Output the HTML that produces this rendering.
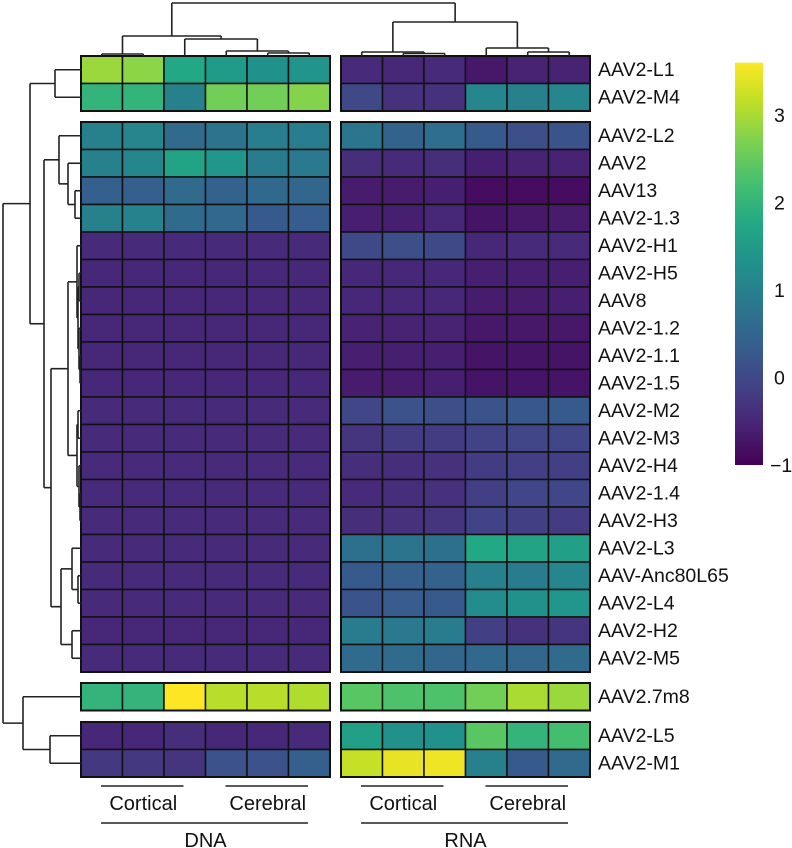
<!DOCTYPE html>
<html><head><meta charset="utf-8">
<style>
body{margin:0;background:#fff;}
svg{display:block;font-family:"Liberation Sans",Arial,sans-serif;}
</style></head>
<body>
<svg id="chart" width="792" height="848" viewBox="0 0 792 848" xmlns="http://www.w3.org/2000/svg"></svg>
<script>
const rowNames = ["AAV2-L1","AAV2-M4","AAV2-L2","AAV2","AAV13","AAV2-1.3","AAV2-H1","AAV2-H5","AAV8","AAV2-1.2","AAV2-1.1","AAV2-1.5","AAV2-M2","AAV2-M3","AAV2-H4","AAV2-1.4","AAV2-H3","AAV2-L3","AAV-Anc80L65","AAV2-L4","AAV2-H2","AAV2-M5","AAV2.7m8","AAV2-L5","AAV2-M1"];
const rowBlock = [0,0,1,1,1,1,1,1,1,1,1,1,1,1,1,1,1,1,1,1,1,1,2,3,3];
const dnaValues = [
[2.9,2.8,1.75,1.5,1.3,1.35],
[2.0,2.0,1.0,2.6,2.6,2.75],
[1.0,1.1,0.6,0.75,0.95,0.95],
[1.0,1.1,1.65,1.4,0.9,0.85],
[0.4,0.4,0.6,0.45,0.55,0.5],
[1.0,1.05,0.6,0.55,0.3,0.35],
[-0.45,-0.45,-0.45,-0.45,-0.45,-0.45],
[-0.5,-0.5,-0.5,-0.5,-0.5,-0.5],
[-0.5,-0.5,-0.5,-0.5,-0.5,-0.5],
[-0.5,-0.5,-0.5,-0.5,-0.5,-0.5],
[-0.5,-0.5,-0.5,-0.5,-0.5,-0.5],
[-0.5,-0.5,-0.5,-0.5,-0.5,-0.5],
[-0.45,-0.45,-0.45,-0.45,-0.45,-0.45],
[-0.45,-0.45,-0.45,-0.45,-0.45,-0.45],
[-0.45,-0.45,-0.45,-0.45,-0.45,-0.45],
[-0.45,-0.45,-0.45,-0.45,-0.45,-0.45],
[-0.45,-0.45,-0.45,-0.45,-0.45,-0.45],
[-0.45,-0.45,-0.45,-0.45,-0.45,-0.45],
[-0.45,-0.45,-0.45,-0.45,-0.45,-0.45],
[-0.45,-0.45,-0.45,-0.45,-0.45,-0.45],
[-0.5,-0.5,-0.5,-0.5,-0.5,-0.5],
[-0.45,-0.45,-0.45,-0.45,-0.45,-0.45],
[2.0,2.0,3.6,3.1,3.1,3.05],
[-0.5,-0.5,-0.4,-0.5,-0.5,-0.45],
[-0.25,-0.25,-0.3,0.15,0.15,0.4]
];
const rnaValues = [
[-0.45,-0.5,-0.45,-0.7,-0.55,-0.55],
[0.0,-0.35,-0.35,1.1,1.0,1.1],
[0.8,0.45,0.65,0.3,0.1,0.2],
[-0.4,-0.45,-0.4,-0.6,-0.55,-0.55],
[-0.65,-0.65,-0.6,-0.85,-0.85,-0.85],
[-0.6,-0.6,-0.5,-0.75,-0.7,-0.65],
[0.0,0.1,0.0,-0.5,-0.45,-0.45],
[-0.5,-0.5,-0.5,-0.6,-0.6,-0.6],
[-0.5,-0.5,-0.5,-0.65,-0.65,-0.6],
[-0.55,-0.55,-0.55,-0.7,-0.7,-0.7],
[-0.6,-0.6,-0.6,-0.75,-0.75,-0.75],
[-0.65,-0.65,-0.6,-0.75,-0.75,-0.75],
[-0.05,0.15,0.1,0.2,0.25,0.3],
[-0.3,-0.2,-0.2,-0.1,-0.05,-0.05],
[-0.4,-0.4,-0.35,-0.2,-0.15,-0.15],
[-0.45,-0.4,-0.35,-0.15,-0.05,-0.05],
[-0.4,-0.35,-0.3,-0.1,-0.15,-0.2],
[0.7,0.75,0.7,1.75,1.65,1.6],
[0.3,0.4,0.45,1.0,0.9,1.1],
[0.2,0.35,0.3,1.2,1.3,1.4],
[0.9,0.85,0.9,-0.15,-0.35,-0.3],
[0.6,0.6,0.5,0.55,0.5,0.6],
[2.4,2.3,2.3,2.6,3.0,2.9],
[1.6,1.3,1.3,2.4,2.0,2.2],
[3.2,3.45,3.5,1.0,0.3,0.6]
];
const colorTicks = [-1,0,1,2,3];
const vMin = -1, vMax = 3.6;

const NS="http://www.w3.org/2000/svg";
const svg=document.getElementById('chart');
function mk(tag,attrs,parent){const e=document.createElementNS(NS,tag);for(const k in attrs)e.setAttribute(k,attrs[k]);(parent||svg).appendChild(e);return e;}
const vir=["#440154","#482475","#414487","#355f8d","#2a788e","#21918c","#22a884","#44bf70","#7ad151","#bddf26","#fde725"];
function hex(h){return [1,3,5].map(i=>parseInt(h.substr(i,2),16));}
function color(v){let t=(v-vMin)/(vMax-vMin);t=Math.max(0,Math.min(1,t));const p=t*10,i=Math.min(9,Math.floor(p)),f=p-i;const a=hex(vir[i]),b=hex(vir[i+1]);return 'rgb('+a.map((x,k)=>Math.round(x+(b[k]-x)*f)).join(',')+')';}

const cellW=41.5, cellH=27.5;
const blockTop=[56,122,683,722];
const leftX=81, rightX=341;
const blockStartRow=[0,2,22,23];
function rowY(r){const b=rowBlock[r];return blockTop[b]+(r-blockStartRow[b])*cellH;}
function colX(side,c){return (side===0?leftX:rightX)+c*cellW;}

const cells=mk('g',{});


[dnaValues,rnaValues].forEach((vals,side)=>{
  vals.forEach((row,r)=>{
    row.forEach((v,c)=>{
      const rc=mk('rect',{x:colX(side,c),y:rowY(r),width:cellW,height:cellH,fill:color(v),stroke:'#111','stroke-width':1.5},cells);
      
      
    });
  });
});
[0,1,2,3].forEach(b=>{
  const n=(b<3?blockStartRow[b+1]:25)-blockStartRow[b];
  [leftX,rightX].forEach(x=>{mk('rect',{x:x,y:blockTop[b],width:cellW*6,height:n*cellH,fill:'none',stroke:'#111','stroke-width':2},cells);});
});
rowNames.forEach((n,r)=>{
  const t=mk('text',{x:598,y:rowY(r)+cellH/2+6,'font-size':19.5,fill:'#111'});
  t.textContent=n;
  
  
});
const dg=mk('g',{fill:'none',stroke:'#222','stroke-width':1.6});


function line(x1,y1,x2,y2){mk('line',{x1,y1,x2,y2},dg);}
function rc(r){return rowY(r)+cellH/2;}
function drawRow(n){if(typeof n==='number')return {y:rc(n),x:81};const a=drawRow(n[1]),b=drawRow(n[2]);const x=n[0];line(x,a.y,a.x,a.y);line(x,b.y,b.x,b.y);line(x,a.y,x,b.y);return {x:x,y:(a.y+b.y)/2};}
const rowTree=[3,
 [30,[55,0,1],
   [44,[59,2,[68,3,[75,4,5]]],
     [51,[68,[77,6,[78,[79,7,8],[79,9,[80,10,11]]]],[77,[78,12,13],[79,14,[80,15,16]]]],
         [61,[72,17,[78,18,19]],[72,20,21]]]]],
 [23,22,[50,23,24]]];
drawRow(rowTree);
function cc(i){return (i<6?colX(0,i):colX(1,i-6))+cellW/2;}
function drawCol(n){if(typeof n==='number')return {x:cc(n),y:56};const a=drawCol(n[1]),b=drawCol(n[2]);const y=n[0];line(a.x,y,a.x,a.y);line(b.x,y,b.x,b.y);line(a.x,y,b.x,y);return {x:(a.x+b.x)/2,y:y};}
const colTree=[3,
 [36,[54,0,1],[39,2,[51,3,[53,4,5]]]],
 [22,[52,6,[53.5,7,8]],[48,9,[52,10,11]]]];
drawCol(colTree);
const ann=mk('g',{});


[[0,'DNA'],[1,'RNA']].forEach(([s,lab])=>{
  const x0=s===0?leftX:rightX;
  [['Cortical',0],['Cerebral',3]].forEach(([g,c])=>{
    mk('line',{x1:x0+c*cellW+20,y1:786,x2:x0+(c+3)*cellW-22,y2:786,stroke:'#222','stroke-width':1.5},ann);
    const t=mk('text',{x:x0+(c+1.5)*cellW,y:810,'text-anchor':'middle','font-size':20,fill:'#111'},ann);
    t.textContent=g;
    
    
  });
  mk('line',{x1:x0+20,y1:823,x2:x0+6*cellW-22,y2:823,stroke:'#222','stroke-width':1.5},ann);
  const t=mk('text',{x:x0+3*cellW,y:847,'text-anchor':'middle','font-size':20,fill:'#111'},ann);
  t.textContent=lab;
  
  
});
const lg=mk('g',{});


const defs=mk('defs',{});
const grad=mk('linearGradient',{id:'vg',x1:0,y1:1,x2:0,y2:0},defs);
vir.forEach((c,i)=>mk('stop',{offset:(i*10)+'%','stop-color':c},grad));
const lgTop=62.7, lgBot=465;
const bar=mk('rect',{x:735,y:lgTop,width:28,height:lgBot-lgTop,fill:'url(#vg)'},lg);


function ly(v){return lgBot-(v-vMin)/(vMax-vMin)*(lgBot-lgTop);}
colorTicks.forEach(v=>{
  const t=mk('text',{x:v<0?770:774,y:ly(v)+7,'font-size':19.5,fill:'#111'},lg);
  t.textContent=v<0?'\u2212'+Math.abs(v):String(v);
  
  
});
</script>
</body></html>
